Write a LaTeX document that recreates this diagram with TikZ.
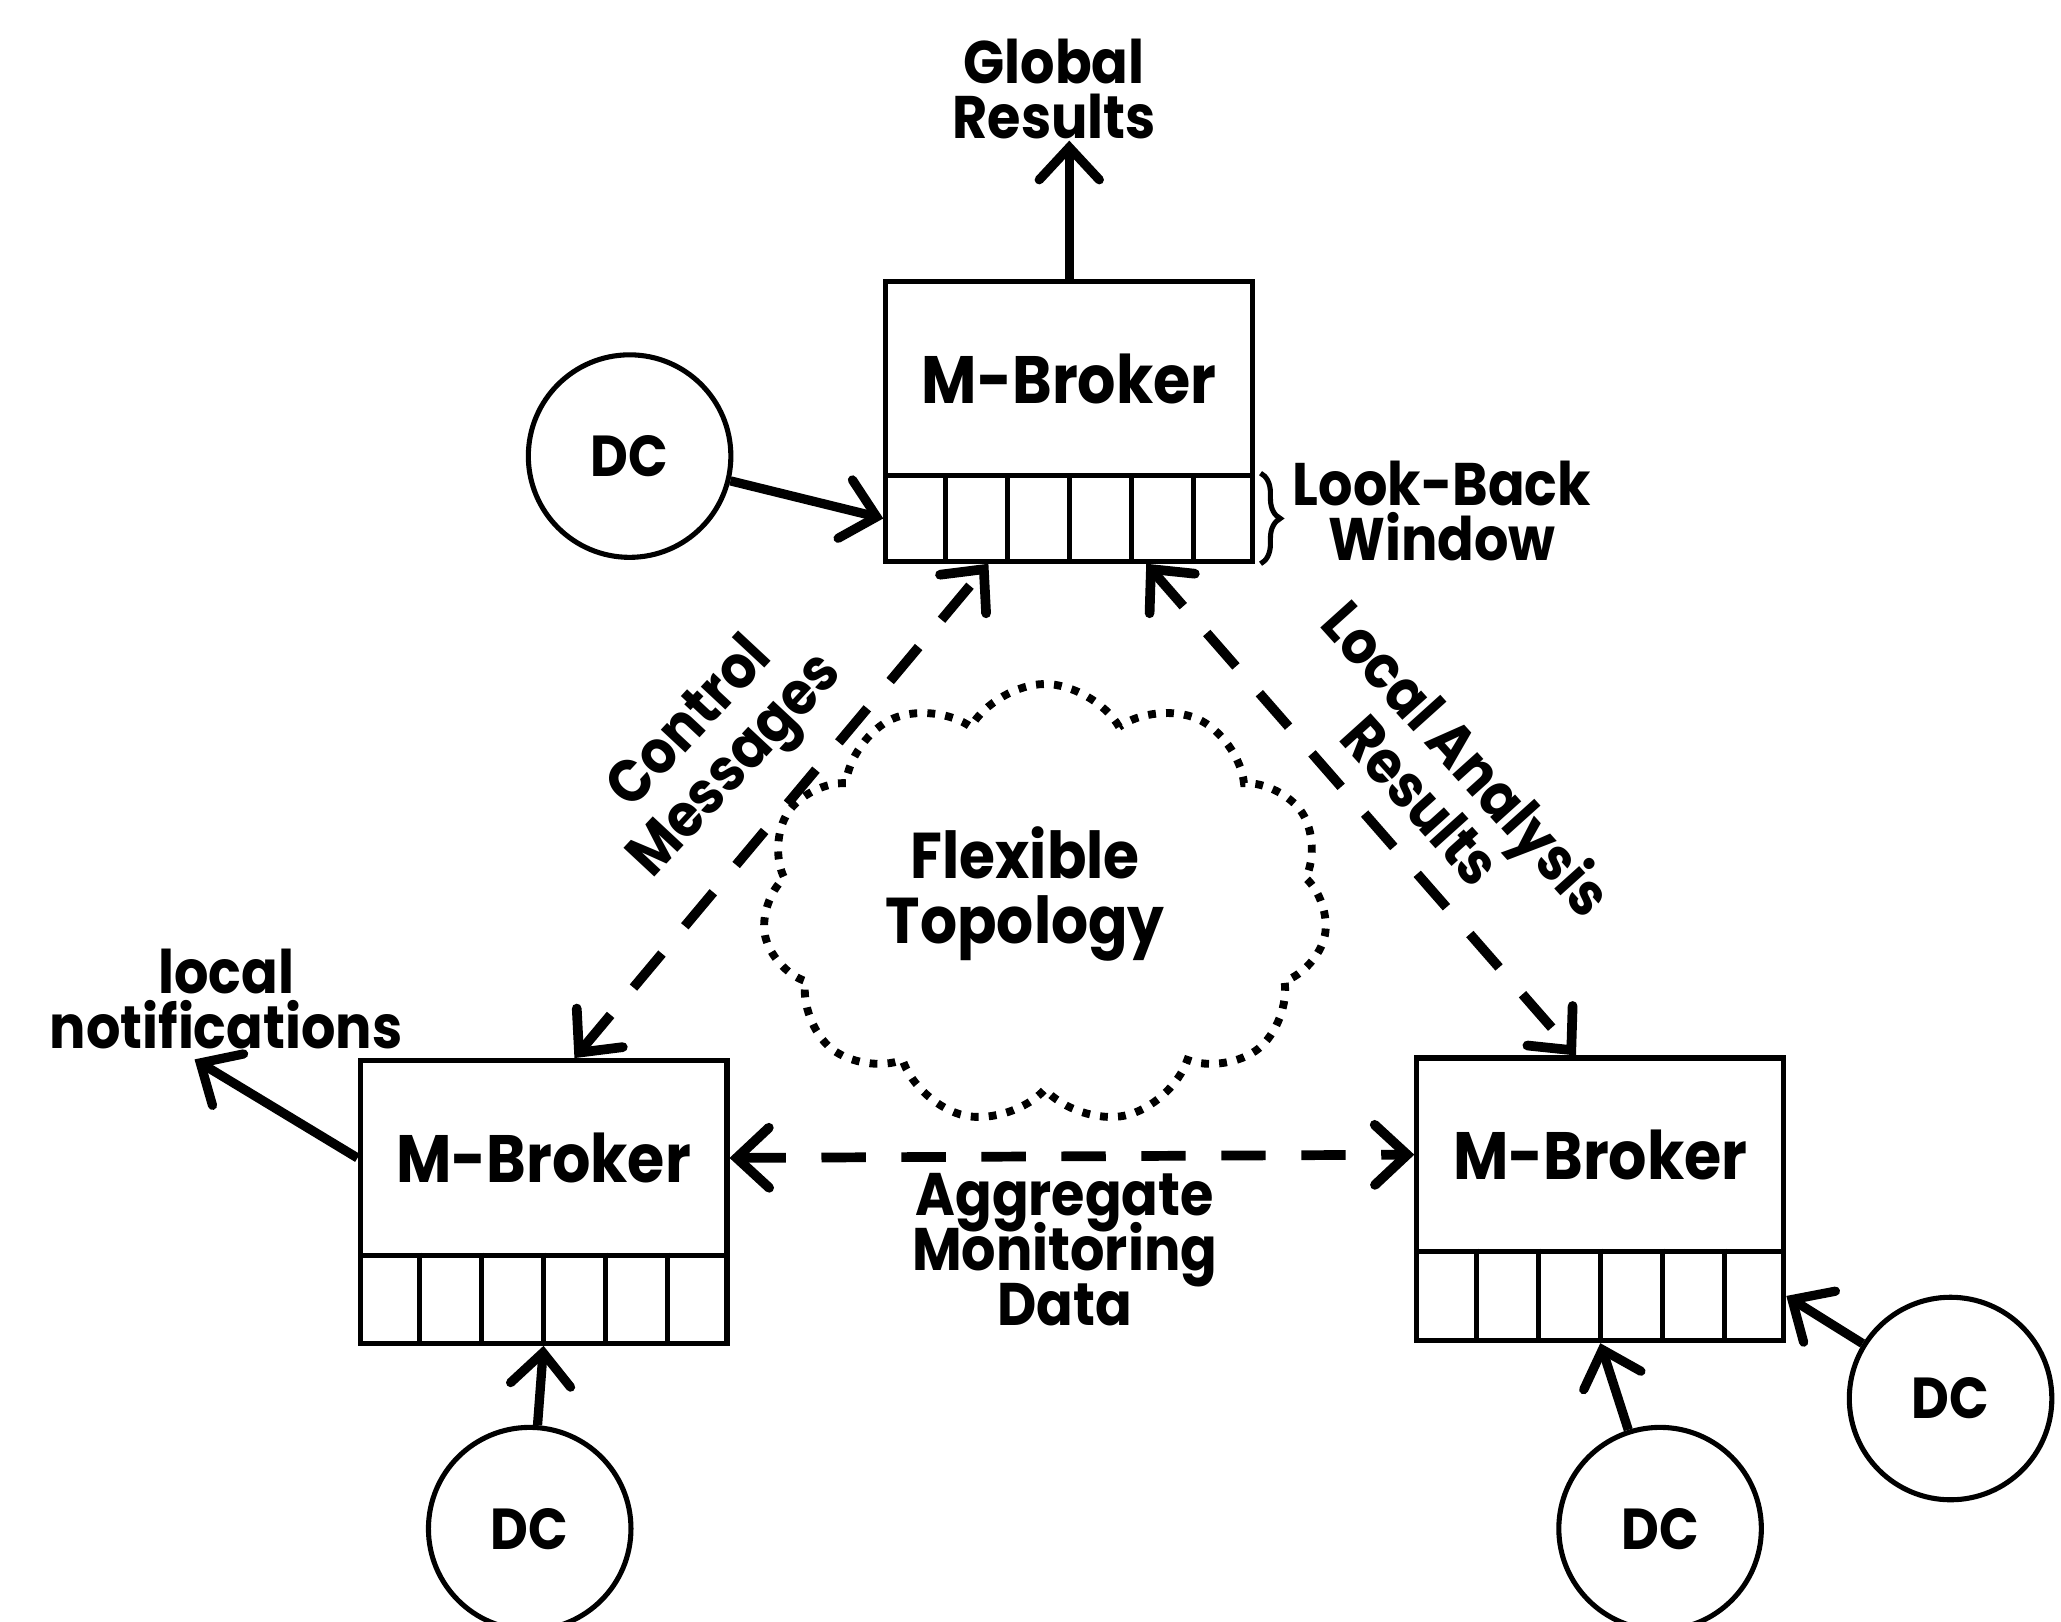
\documentclass[tikz,border=0pt]{standalone}
\usepackage{fontspec}
\setmainfont{Poppins}[FakeStretch=0.9]
\usetikzlibrary{arrows.meta,calc,shapes.symbols,decorations.pathreplacing}
\newcommand{\tightlines}{\lineskiplimit=-20pt\relax}
\tikzset{
  boxline/.style={line width=1.1pt},
  mbox/.style={boxline, draw, rectangle, inner sep=0pt, minimum width=2.79cm, anchor=north west,
    font=\bfseries\fontsize{14.5}{16}\selectfont},
  qbox/.style={boxline, draw, rectangle, inner sep=0pt, minimum width=2.79cm, anchor=north west},
  dcnode/.style={boxline, draw, circle, inner sep=0pt, minimum size=1.54cm,
    font=\bfseries\fontsize{12.5}{14}\selectfont},
  lbl/.style={inner sep=0pt, align=center, font=\bfseries\fontsize{13}{11.9}\selectfont\tightlines},
  rlbl/.style={lbl, font=\bfseries\fontsize{13}{13.4}\selectfont\tightlines},
  tipA/.tip={Straight Barb[length=7pt,width=13pt,line cap=round]},
  arr/.style={line width=2pt, -tipA},
  darr/.style={line width=2.1pt, dash pattern=on 9.6pt off 7.7pt, tipA-tipA},
  cloudline/.style={line width=1.7pt, dash pattern=on 1.7pt off 2.2pt},
}
\begin{document}
\begin{tikzpicture}[x=0.01cm,y=-0.01cm]
\useasboundingbox (0,0) rectangle (1568,1234);

% cloud
\node[cloud, draw, cloudline, cloud puffs=11, cloud puff arc=120, aspect=1.3,
  minimum width=4.3cm, minimum height=3.35cm, inner sep=0pt] (cl) at (795,688) {};
\node[lbl, font=\bfseries\fontsize{14}{14}\selectfont\tightlines] (ft) at (780,680) {Flexible\\Topology};

% top broker
\node[mbox, minimum height=1.48cm] (tb) at (672,212) {M-Broker};
\node[qbox, minimum height=0.65cm] (tq) at (672,360) {};
% left broker
\node[mbox, minimum height=1.48cm] (lb) at (272,805) {M-Broker};
\node[qbox, minimum height=0.67cm] (lq) at (272,953) {};
% right broker
\node[mbox, minimum height=1.47cm] (rb) at (1076,803) {M-Broker};
\node[qbox, minimum height=0.68cm] (rq) at (1076,950) {};

\foreach \q in {tq,lq,rq}{
  \foreach \i in {1,...,5}{
    \draw[boxline] ($(\q.north west)!\i/6!(\q.north east)$) -- ($(\q.south west)!\i/6!(\q.south east)$);
  }
}

% DCs
\node[dcnode] (dc1) at (479,347) {DC};
\node[dcnode] (dc2) at (403,1163) {DC};
\node[dcnode] (dc3) at (1263,1163) {DC};
\node[dcnode] (dc4) at (1484,1064) {DC};

% labels
\node[lbl] (gr) at (802,68) {Global\\Results};
\node[lbl] (lbw) at (1097,389) {Look-Back\\Window};
\node[lbl] (ln) at (172,760) {local\\notifications};
\node[lbl] (agg) at (810,951) {Aggregate\\Monitoring\\Data};
\node[rlbl, rotate=47] (cm) at (544,568) {Control\\Messages};
\node[rlbl, rotate=-48] (la) at (1100,592) {Local Analysis\\Results};

\coordinate (grtip) at (806,107);
\coordinate (lntip) at (148,806);

% solid arrows
\draw[arr] (tb.north) -- (tb.north |- grtip);
\draw[arr] (dc1) -- (tq.west);
\draw[arr] (dc2) -- (lq.south);
\draw[arr] (dc3) -- (rq.south);
\draw[arr] (dc4) -- (rq.east);
\draw[arr] (lb.west) -- (lntip);

% dashed arrows
\draw[darr] ([xshift=0.235cm]lb.north) -- ([xshift=-0.615cm]tq.south);
\draw[darr] ([xshift=0.585cm]tq.south) -- ([xshift=-0.185cm]rb.north);
\draw[darr] (lb.east) -- (rb.west);

% brace
\draw[boxline, decorate, decoration={brace, amplitude=0.15cm}]
  ([xshift=0.04cm]tq.north east) -- ([xshift=0.04cm]tq.south east);
\end{tikzpicture}
\end{document}
